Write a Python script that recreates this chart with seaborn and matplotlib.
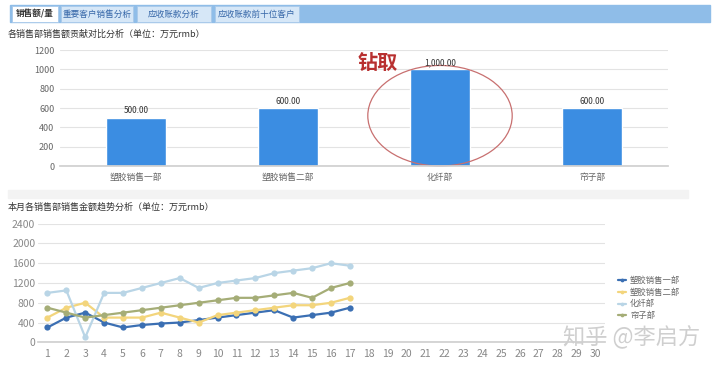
import numpy as np
import pandas as pd
import seaborn as sns
import matplotlib.pyplot as plt
from matplotlib.patches import Ellipse, Rectangle

# bar chart data
departments = ["塑胶销售一部", "塑胶销售二部", "化纤部", "帘子部"]
dept_sales = [500, 600, 1000, 600]

# line chart data (days 1..17 of the month)
days = list(range(1, 18))
sales_dept1 = [300, 500, 600, 400, 300, 350, 380, 400, 450, 500, 550, 600, 650, 500, 550, 600, 700]
sales_dept2 = [500, 700, 800, 500, 500, 500, 600, 500, 400, 550, 600, 650, 700, 750, 750, 800, 900]
sales_fiber = [1000, 1050, 100, 1000, 1000, 1100, 1200, 1300, 1100, 1200, 1250, 1300, 1400, 1450, 1500, 1600, 1550]
sales_cord = [700, 600, 500, 550, 600, 650, 700, 750, 800, 850, 900, 900, 950, 1000, 900, 1100, 1200]
day_ticks = list(range(1, 31))

tabs = ["销售额/量", "重要客户销售分析", "应收账款分析", "应收账款前十位客户"]

sns.set_theme(style="white")
plt.rcParams["font.family"] = ["Noto Sans CJK SC", "DejaVu Sans"]

fig = plt.figure(figsize=(7.2, 3.68), dpi=100)

# --- tab bar ---
fig.patches.append(Rectangle((10 / 720, 1 - 22 / 368), 700 / 720, 17 / 368,
                             transform=fig.transFigure, color="#8fbde8", zorder=0))
tab_x = [(12, 58), (61, 133), (137, 211), (215, 299)]
for i, (name, (x0, x1)) in enumerate(zip(tabs, tab_x)):
    fc = "white" if i == 0 else "#d6e7f7"
    fig.patches.append(Rectangle((x0 / 720, 1 - 22 / 368), (x1 - x0) / 720, 16 / 368,
                                 transform=fig.transFigure, facecolor=fc,
                                 edgecolor="#a9c9ea", lw=0.6, zorder=1))
    fig.text((x0 + x1) / 2 / 720, 1 - 14 / 368, name, ha="center", va="center",
             fontsize=6.2, color="#333333" if i == 0 else "#3566a8",
             fontweight="bold" if i == 0 else "normal")

fig.text(8 / 720, 1 - 34 / 368, "各销售部销售额贡献对比分析（单位：万元rmb）",
         fontsize=6.5, color="#333333", va="center")

# separator band
fig.patches.append(Rectangle((8 / 720, 1 - 198 / 368), 680 / 720, 8 / 368,
                             transform=fig.transFigure, color="#f3f3f3", zorder=0))

fig.text(8 / 720, 1 - 207 / 368, "本月各销售部销售金额趋势分析（单位：万元rmb）",
         fontsize=6.5, color="#333333", va="center")

# --- bar chart ---
ax1 = fig.add_axes([60 / 720, 1 - 166 / 368, 608 / 720, 116 / 368])
bar_df = pd.DataFrame({"dept": departments, "sales": dept_sales})
sns.barplot(data=bar_df, x="dept", y="sales", color="#3b8de2", width=0.4,
            saturation=1, ax=ax1)
for p, v in zip(ax1.patches, dept_sales):
    ax1.text(p.get_x() + p.get_width() / 2, v + 25, f"{v:,.2f}",
             ha="center", va="bottom", fontsize=6, color="#333333")
ax1.set_ylim(0, 1200)
ax1.set_xlim(-0.5, 3.5)
ax1.set_yticks(range(0, 1201, 200))
ax1.grid(axis="y", color="#e3e3e3", lw=0.8)
ax1.set_axisbelow(True)
ax1.set_xlabel("")
ax1.set_ylabel("")
for s in ["top", "right", "left"]:
    ax1.spines[s].set_visible(False)
ax1.spines["bottom"].set_color("#d0d0d0")
ax1.tick_params(axis="y", labelsize=6.5, labelcolor="#666666", length=0, pad=4)
ax1.tick_params(axis="x", labelsize=6.3, labelcolor="#666666", length=0, pad=5)

ax1.add_patch(Ellipse((2.0, 520), 0.95, 1040, fill=False, edgecolor="#c87070",
                      lw=0.9, clip_on=False))
ax1.text(1.0 + (378 - 288) / 152, 1200 - (62 - 50) * 1200 / 116, "钻取",
         fontsize=14.5, color="#b83030", fontweight="bold", ha="center", va="center")

# --- line chart ---
ax2 = fig.add_axes([38 / 720, 1 - 342.3 / 368, 567 / 720, 118.6 / 368])
line_df = pd.DataFrame({
    "day": days * 4,
    "sales": sales_dept1 + sales_dept2 + sales_fiber + sales_cord,
    "dept": [d for d in departments for _ in days],
})
palette = {"塑胶销售一部": "#3b6fb3", "塑胶销售二部": "#f3d57c",
           "化纤部": "#b9d5e6", "帘子部": "#a5ad77"}
sns.lineplot(data=line_df, x="day", y="sales", hue="dept", palette=palette,
             hue_order=departments, marker="o", markersize=4.5, markeredgewidth=0,
             lw=1.6, ax=ax2)
ax2.set_xlim(0.5, 30.5)
ax2.set_ylim(0, 2400)
ax2.set_xticks(day_ticks)
ax2.set_yticks(range(0, 2401, 400))
ax2.grid(axis="y", color="#e3e3e3", lw=0.8)
ax2.set_xlabel("")
ax2.set_ylabel("")
for s in ["top", "right", "left"]:
    ax2.spines[s].set_visible(False)
ax2.spines["bottom"].set_color("#d0d0d0")
ax2.tick_params(axis="y", labelsize=7.5, labelcolor="#888888", length=0, pad=2)
ax2.tick_params(axis="x", labelsize=7.5, labelcolor="#888888", length=0, pad=5)

handles, labels = ax2.get_legend_handles_labels()
ax2.legend(handles, labels, loc="center left", bbox_to_anchor=(610 / 720, 1 - 298 / 368),
           bbox_transform=fig.transFigure, frameon=False, fontsize=6, handlelength=1.0,
           handletextpad=0.5, labelspacing=0.35, labelcolor="#666666", markerscale=0.6)

fig.text(632 / 720, 1 - 337 / 368, "知乎 @李启方", fontsize=16, color="#cfcfcf",
         ha="center", va="center")

fig.savefig("out.png", dpi=100)
